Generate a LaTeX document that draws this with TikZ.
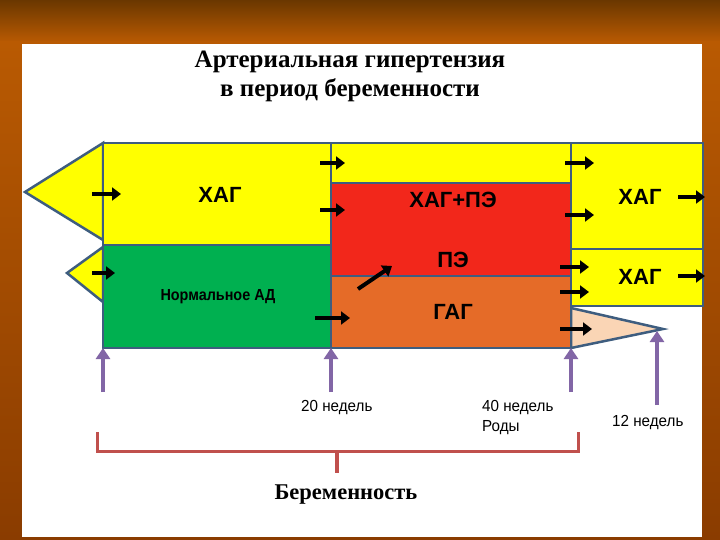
\documentclass[tikz,border=0pt]{standalone}
\usepackage{fontspec}
\setmainfont{Liberation Serif}
\newfontfamily\arialf{Liberation Sans}
\usetikzlibrary{arrows.meta}
\definecolor{bgdark}{HTML}{6A3700}
\definecolor{bgor}{HTML}{B95A02}
\definecolor{bgbot}{HTML}{8A3C00}
\definecolor{bord}{HTML}{3E5D7F}
\definecolor{yel}{HTML}{FFFF00}
\definecolor{grn}{HTML}{00B050}
\definecolor{redb}{HTML}{F2271B}
\definecolor{orb}{HTML}{E56B28}
\definecolor{peach}{HTML}{FAD5B5}
\definecolor{purp}{HTML}{8266A6}
\definecolor{brc}{HTML}{C0504D}
\tikzset{
  box/.style={draw=bord, line width=2.5pt, anchor=north west, inner sep=0pt, outer sep=0pt},
  tri/.style={draw=bord, line width=2.5pt, line join=miter},
  lbl/.style={font=\arialf\bfseries\fontsize{22}{22}\selectfont, inner sep=0pt},
  blk/.style={line width=4pt, -{Triangle[length=9pt,width=13pt]}},
  purarr/.style={purp, line width=4pt, -{Triangle[length=11pt,width=14pt]}},
  wk/.style={font=\arialf\fontsize{16}{20}\selectfont, inner sep=0pt, xscale=0.95, align=left},
  ttl/.style={font=\bfseries\fontsize{25}{25}\selectfont, inner sep=0pt}
}
\begin{document}
\begin{tikzpicture}[x=1pt,y=-1pt]
\useasboundingbox (0,0) rectangle (720,540);
% background
\fill[top color=bgdark, bottom color=bgor] (0,0) rectangle (720,42);
\fill[top color=bgor, bottom color=bgbot] (0,42) rectangle (720,540);
\fill[white] (22,44) rectangle (702,537);
% title
\node[ttl] (t1) at (350,62) {Артериальная гипертензия};
\node[ttl] (t2) at (350,90) {в период беременности};
% triangles
\draw[tri, fill=yel] (103,143) -- (25,192) -- (103,240) -- cycle;
\draw[tri, fill=yel] (103,247) -- (67,273) -- (103,302) -- cycle;
\draw[tri, fill=peach] (571,308) -- (663,329) -- (571,348) -- cycle;
% boxes
\node[box, fill=yel, minimum width=228pt, minimum height=102pt] (xag1) at (103,143) {};
\node[box, fill=grn, minimum width=228pt, minimum height=103pt] (norm) at (103,245) {};
\node[box, fill=yel, minimum width=240pt, minimum height=40pt] (strip) at (331,143) {};
\node[box, fill=redb, minimum width=240pt, minimum height=93pt] (pe) at (331,183) {};
\node[box, fill=orb, minimum width=240pt, minimum height=72pt] (gag) at (331,276) {};
\node[box, fill=yel, minimum width=132pt, minimum height=106pt] (xag2) at (571,143) {};
\node[box, fill=yel, minimum width=132pt, minimum height=57pt] (xag3) at (571,249) {};
% labels
\node[lbl] (l1) at (220,195) {ХАГ};
\node[lbl, font=\arialf\bfseries\fontsize{16}{16}\selectfont, xscale=0.9] (l2) at (218,297) {Нормальное АД};
\node[lbl] (l3) at (453,200) {ХАГ+ПЭ};
\node[lbl] (l4) at (453,260) {ПЭ};
\node[lbl] (l5) at (453,312) {ГАГ};
\node[lbl] (l6) at (640,197) {ХАГ};
\node[lbl] (l7) at (640,277) {ХАГ};
% black arrows
\draw[blk] (92,194) -- (121,194);
\draw[blk] (92,273) -- (115,273);
\draw[blk] (320,163) -- (345,163);
\draw[blk] (320,210) -- (345,210);
\draw[blk] (315,318) -- (350,318);
\draw[blk] (358,289) -- (392,266);
\draw[blk] (565,163) -- (594,163);
\draw[blk] (565,215) -- (594,215);
\draw[blk] (560,267) -- (589,267);
\draw[blk] (560,292) -- (589,292);
\draw[blk] (560,329) -- (592,329);
\draw[blk] (678,197) -- (705,197);
\draw[blk] (678,276) -- (705,276);
% purple arrows
\coordinate (p1) at (103,392);
\coordinate (p2) at (331,392);
\coordinate (p3) at (571,392);
\coordinate (p4) at (657,405);
\coordinate (p4t) at (657,331);
\draw[purarr] (p1) -- (norm.south west);
\draw[purarr] (p2) -- (norm.south east);
\draw[purarr] (p3) -- (gag.south east);
\draw[purarr] (p4) -- (p4t);
% week labels
\node[wk, anchor=west] (w20) at (301,408) {20 недель};
\node[wk, anchor=north west] (w40) at (482,400) {40 недель\\Роды};
\node[wk, anchor=west] (w12) at (612,423) {12 недель};
% brace
\draw[brc, line width=3pt] (97,432) -- (97,451) -- (578,451) -- (578,432);
\draw[brc, line width=4pt] (337,451) -- (337,473);
\node[ttl, font=\bfseries\fontsize{22.5}{22.5}\selectfont] (preg) at (346,495) {Беременность};
\end{tikzpicture}
\end{document}
